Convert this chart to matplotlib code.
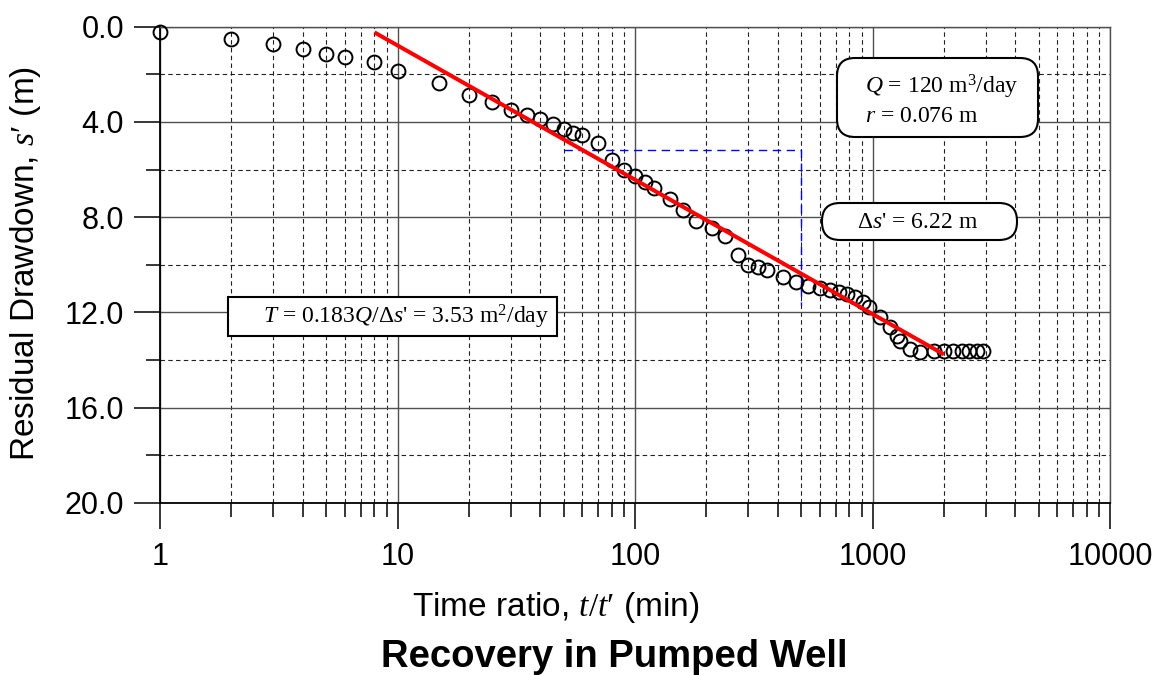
import matplotlib
matplotlib.use("Agg")
import matplotlib.pyplot as plt
from matplotlib.patches import FancyBboxPatch
from matplotlib.ticker import MultipleLocator, LogLocator, NullFormatter, FuncFormatter

# ---------------- data ----------------
time_ratio = [1, 2, 3, 4, 5, 6, 8, 10, 15, 20, 25, 30, 35, 40, 45, 50, 55, 60, 70, 80,
              90, 100, 110, 120, 140, 160, 180, 210, 240, 272, 300, 330, 360, 420, 475,
              536, 602, 663, 724, 781, 840, 911, 971, 1077, 1187, 1267, 1308, 1432, 1588,
              1807, 1991, 2193, 2378, 2560, 2751, 2918]
residual_drawdown = [0.21, 0.53, 0.74, 0.94, 1.15, 1.29, 1.47, 1.87, 2.37, 2.85, 3.17, 3.48,
                     3.72, 3.89, 4.10, 4.28, 4.45, 4.56, 4.87, 5.58, 6.00, 6.29, 6.53, 6.76,
                     7.23, 7.72, 8.17, 8.45, 8.81, 9.61, 10.03, 10.11, 10.24, 10.53, 10.74,
                     10.88, 10.97, 11.06, 11.16, 11.25, 11.34, 11.55, 11.76, 12.21, 12.63,
                     12.98, 13.19, 13.54, 13.68, 13.64, 13.64, 13.64, 13.64, 13.64, 13.64,
                     13.64]
fit_t = [8, 2000]
fit_s = [0.24, 13.77]
delta_t = [50, 500, 500]
delta_s = [5.16, 5.16, 11.7]
x_tick_values = [1, 10, 100, 1000, 10000]
x_tick_labels = ["1", "10", "100", "1000", "10000"]

# ---------------- style ----------------
plt.rcParams['font.family'] = ['Liberation Sans', 'DejaVu Sans']
plt.rcParams['mathtext.fontset'] = 'custom'
plt.rcParams['mathtext.rm'] = 'Liberation Serif'
plt.rcParams['mathtext.it'] = 'Liberation Serif:italic'
plt.rcParams['mathtext.bf'] = 'Liberation Serif:bold'

W, H = 1161, 675
fig = plt.figure(figsize=(W / 100, H / 100), dpi=100)
ax_l, ax_r, ax_t, ax_b = 160, 1110, 26.7, 502.7
ax = fig.add_axes([ax_l / W, 1 - ax_b / H, (ax_r - ax_l) / W, (ax_b - ax_t) / H])

ax.set_xscale('log')
ax.set_xlim(1, 10000)
ax.set_ylim(20, 0)

ax.xaxis.set_minor_locator(LogLocator(base=10, subs=range(2, 10), numticks=20))
ax.set_xticks(x_tick_values)
ax.set_xticklabels(x_tick_labels)
ax.xaxis.set_minor_formatter(NullFormatter())
ax.yaxis.set_major_locator(MultipleLocator(4))
ax.yaxis.set_minor_locator(MultipleLocator(2))
ax.yaxis.set_major_formatter(FuncFormatter(lambda v, p: f"{v:.1f}"))

grid_col = '#505050'
ax.grid(which='major', color=grid_col, linestyle='-', linewidth=1.0)
ax.grid(which='minor', color='#222222', linestyle=(0, (4, 3)), linewidth=0.8)
ax.set_axisbelow(True)

for side in ['left', 'bottom']:
    ax.spines[side].set_color('black')
    ax.spines[side].set_linewidth(1.3)
for side in ['top', 'right']:
    ax.spines[side].set_color(grid_col)
    ax.spines[side].set_linewidth(1.0)

ax.tick_params(which='major', direction='out', length=19, width=1.1, labelsize=22,
               colors='black')
ax.tick_params(which='minor', direction='out', length=10, width=1.1)
ax.tick_params(axis='y', which='major', pad=7)
ax.tick_params(axis='x', which='major', pad=9)

# blue dashed construction line
ax.plot(delta_t, delta_s, color='blue', linestyle=(0, (6, 4)), linewidth=1.0, zorder=3)

# data
ax.plot(time_ratio, residual_drawdown, linestyle='none', marker='o', markersize=10,
        markerfacecolor='none', markeredgecolor='black', markeredgewidth=1.4,
        zorder=4, clip_on=False)

# fitted line
ax.plot(fit_t, fit_s, color='red', linewidth=2.9, zorder=5, solid_capstyle='butt')

# ---------------- annotation boxes ----------------
AW, AH = ax_r - ax_l, ax_b - ax_t

def px_box(x0, y0, x1, y1, rounding, style):
    fx0 = (x0 - ax_l) / AW
    fy0 = (ax_b - y1) / AH
    fw = (x1 - x0) / AW
    fh = (y1 - y0) / AH
    if style == 'round':
        bs = f"round,pad=0,rounding_size={rounding / AW}"
    else:
        bs = "square,pad=0"
    p = FancyBboxPatch((fx0, fy0), fw, fh, boxstyle=bs, transform=ax.transAxes,
                       mutation_aspect=AW / AH, facecolor='white', edgecolor='black',
                       linewidth=1.5, zorder=6, clip_on=False)
    ax.add_patch(p)

def px_text(x, y, s, **kw):
    ax.text((x - ax_l) / AW, (ax_b - y) / AH, s, transform=ax.transAxes, zorder=7,
            family='Liberation Serif', fontsize=17, **kw)

px_box(837, 58, 1038, 137, 18, 'round')
px_text(865, 87, r"$Q$ = 120 m$^3$/day", ha='left', va='center')
px_text(865, 117, r"$r$ = 0.076 m", ha='left', va='center')

px_box(822, 203, 1017, 240, 18, 'round')
px_text(918, 222, r"Δ$s$' = 6.22 m", ha='center', va='center')

px_box(228, 297, 557, 336, 0, 'square')
px_text(406, 316.5, r"$T$ = 0.183$Q$/Δ$s$' = 3.53 m$^2$/day", ha='center', va='center')

# ---------------- labels ----------------
fig.text(26 / W, 1 - 264 / H, r"Residual Drawdown, $s′$ (m)", rotation=90,
         ha='center', va='center', fontsize=24)
fig.text(556 / W, 1 - 616 / H, r"Time ratio, $t/t′$ (min)", ha='center',
         va='baseline', fontsize=24)
fig.text(614 / W, 1 - 667 / H, "Recovery in Pumped Well", ha='center',
         va='baseline', fontsize=27.5, fontweight='bold')

fig.savefig("out.png", dpi=100)
